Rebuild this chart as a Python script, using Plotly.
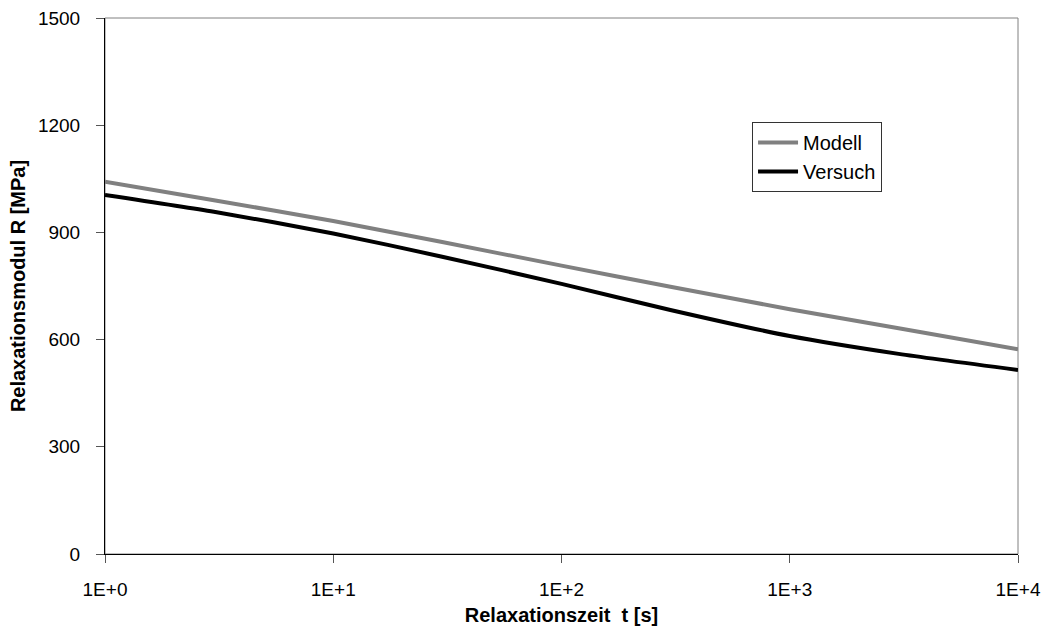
import plotly.graph_objects as go

# Relaxation time in seconds (log axis)
zeit_s = [1, 3, 10, 30, 100, 300, 1000, 3000, 10000]

# Relaxation modulus R in MPa
modell_mpa = [1042, 990, 932, 873, 807, 748, 685, 632, 573]
versuch_mpa = [1005, 958, 897, 832, 756, 683, 610, 560, 515]

x_tickvals = [1, 10, 100, 1000, 10000]
x_ticktext = ["1E+0", "1E+1", "1E+2", "1E+3", "1E+4"]
y_tickvals = [0, 300, 600, 900, 1200, 1500]

font_family = "Liberation Sans, Arial, sans-serif"

fig = go.Figure()
fig.add_trace(go.Scatter(
    x=zeit_s, y=modell_mpa, name="Modell", mode="lines",
    line=dict(color="#808080", width=4, shape="spline", smoothing=0.6),
    legendgroup="m",
))
fig.add_trace(go.Scatter(
    x=zeit_s, y=versuch_mpa, name="Versuch", mode="lines",
    line=dict(color="#000000", width=4, shape="spline", smoothing=0.6),
    legendgroup="v",
))

fig.update_layout(
    width=1049, height=641,
    margin=dict(l=105, r=31, t=18, b=87, autoexpand=False),
    paper_bgcolor="white", plot_bgcolor="white",
    font=dict(family=font_family, size=19, color="black"),
    showlegend=True,
    legend=dict(
        x=0.7087, y=0.806, xanchor="left", yanchor="top",
        bgcolor="white", bordercolor="#333333", borderwidth=1,
        font=dict(size=20), tracegroupgap=0, traceorder="grouped",
        itemwidth=40,
    ),
    shapes=[dict(
        type="rect", xref="paper", yref="paper", x0=0, x1=1, y0=0, y1=1,
        line=dict(color="#808080", width=1), layer="below",
    )],
)

fig.update_xaxes(
    type="log", range=[0, 4], automargin=False,
    tickvals=x_tickvals, ticktext=x_ticktext,
    showgrid=False, zeroline=False,
    showline=True, linecolor="black", linewidth=1,
    ticks="outside", ticklen=8, tickcolor="#555555",
    ticklabelstandoff=10,
    tickfont=dict(size=19),
    title=dict(text="<b>Relaxationszeit  t [s]</b>", font=dict(size=20), standoff=9),
)
fig.update_yaxes(
    range=[0, 1500], automargin=False,
    tickvals=y_tickvals,
    showgrid=False, zeroline=False,
    showline=True, linecolor="black", linewidth=1,
    ticks="outside", ticklen=8, tickcolor="#555555",
    ticklabelstandoff=12,
    tickfont=dict(size=19),
    title=dict(text="<b>Relaxationsmodul R [MPa]</b>", font=dict(size=20), standoff=6),
)

fig.write_html("out.html")
